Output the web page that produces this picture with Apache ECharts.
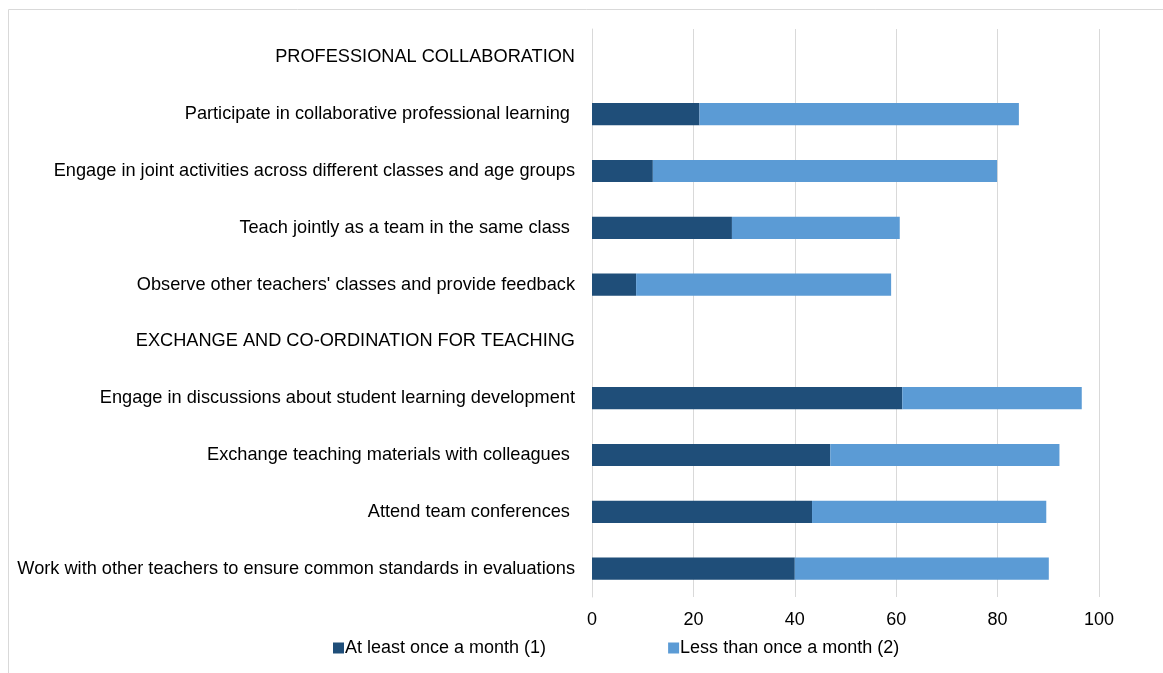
<!DOCTYPE html>
<html>
<head>
<meta charset="utf-8">
<script src="https://cdn.jsdelivr.net/npm/echarts@6/dist/echarts.min.js"></script>
<style>
  html, body { margin: 0; padding: 0; background: #ffffff; }
  #chart { width: 1163px; height: 673px; }
</style>
</head>
<body>
<div id="chart"></div>
<script>
// Rows, top to bottom; the two upper-case rows are section headings with no bars
const categories = [
  'PROFESSIONAL COLLABORATION',
  'Participate in collaborative professional learning ',
  'Engage in joint activities across different classes and age groups',
  'Teach jointly as a team in the same class ',
  "Observe other teachers' classes and provide feedback",
  'EXCHANGE AND CO-ORDINATION FOR TEACHING',
  'Engage in discussions about student learning development',
  'Exchange teaching materials with colleagues ',
  'Attend team conferences ',
  'Work with other teachers to ensure common standards in evaluations'
];

// Share of teachers (%)
const atLeastMonthly = [null, 21.2, 12.0, 27.6, 8.7, null, 61.2, 47.0, 43.4, 40.0];
const lessThanMonthly = [null, 63.0, 67.9, 33.1, 50.3, null, 35.4, 45.2, 46.2, 50.1];

const xTicks = [0, 20, 40, 60, 80, 100];

const seriesNames = ['At least once a month (1)', 'Less than once a month (2)'];
const seriesColors = ['#1f4e79', '#5b9bd5'];

const chart = echarts.init(document.getElementById('chart'), null, { renderer: 'canvas' });
const font = 'Liberation Sans, Arial, sans-serif';

chart.setOption({
  animation: false,
  textStyle: { fontFamily: font },
  graphic: [{
    type: 'rect',
    silent: true,
    shape: { x: 8.5, y: 9.5, width: 1300, height: 800 },
    style: { fill: 'none', stroke: '#d9d9d9', lineWidth: 1 }
  }],
  grid: { left: 592, right: 64, top: 29, bottom: 76, containLabel: false },
  legend: {
    top: 634,
    left: 328,
    itemWidth: 11,
    itemHeight: 11,
    itemGap: 122,
    icon: 'rect',
    textStyle: { fontSize: 18, color: '#000', fontFamily: font, padding: [0, 0, 0, -4] },
    data: seriesNames
  },
  xAxis: {
    type: 'value',
    min: xTicks[0],
    max: xTicks[xTicks.length - 1],
    interval: 20,
    axisLine: { show: false },
    axisTick: { show: false },
    splitLine: { lineStyle: { color: '#d9d9d9', width: 1 } },
    axisLabel: { fontSize: 18, color: '#000', margin: 14, fontFamily: font }
  },
  yAxis: {
    type: 'category',
    inverse: true,
    data: categories,
    axisLine: { show: true, lineStyle: { color: '#d9d9d9', width: 1 } },
    axisTick: { show: false },
    axisLabel: { fontSize: 18.2, color: '#000', margin: 17, fontFamily: font }
  },
  series: [
    {
      name: seriesNames[0],
      type: 'bar',
      stack: 'total',
      barWidth: '39%',
      itemStyle: { color: seriesColors[0] },
      data: atLeastMonthly
    },
    {
      name: seriesNames[1],
      type: 'bar',
      stack: 'total',
      barWidth: '39%',
      itemStyle: { color: seriesColors[1] },
      data: lessThanMonthly
    }
  ]
});
</script>
</body>
</html>
